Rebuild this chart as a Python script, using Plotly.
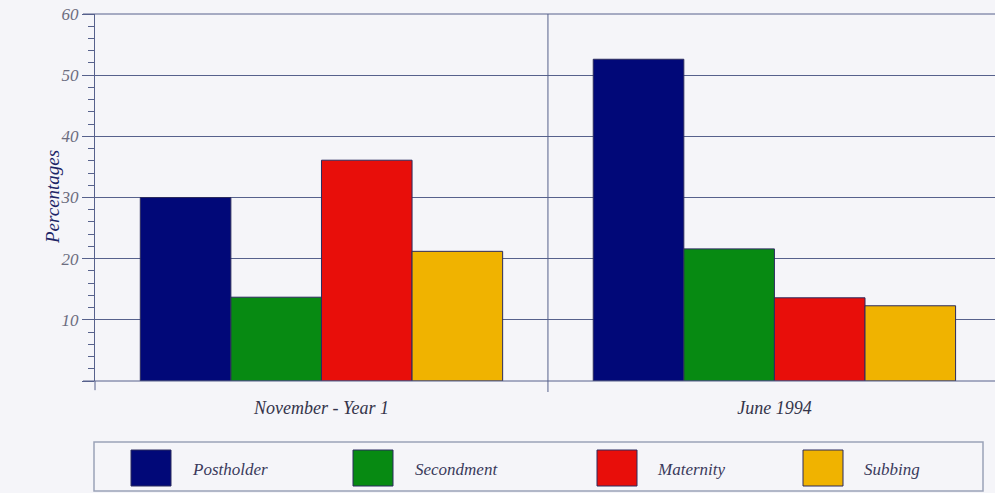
import plotly.graph_objects as go

# Share of staff by arrangement, two survey points
periods = ["November - Year 1", "June 1994"]
series_names = ["Postholder", "Secondment", "Maternity", "Subbing"]
postholder = [30.0, 52.6]
secondment = [13.7, 21.6]
maternity = [36.1, 13.6]
subbing = [21.2, 12.3]
series_values = [postholder, secondment, maternity, subbing]
series_colors = ["#010878", "#078a12", "#e80e0a", "#f0b300"]
y_ticks = [0, 10, 20, 30, 40, 50, 60]
y_tick_text = ["", "10", "20", "30", "40", "50", "60"]

BG = "#f5f5f9"
GRID = "#56618c"
SERIF = "Liberation Serif"

fig = go.Figure()
for name, vals, col in zip(series_names, series_values, series_colors):
    fig.add_trace(go.Bar(
        x=[0, 1], y=vals, name=name,
        marker=dict(color=col, line=dict(color="#2b2b5e", width=1)),
        showlegend=False,
    ))

px_w, px_left = 900.0, 95.0
px_h, px_base = 367.0, 381.0


def fx(px):
    return (px - px_left) / px_w


def fy(py):
    return (px_base - py) / px_h


shapes = [
    # divider between the two periods, running a little below the baseline
    dict(type="line", xref="x", yref="paper", x0=0.5, x1=0.5, y0=-0.03, y1=1,
         line=dict(color=GRID, width=1)),
    # downward extension of the value axis
    dict(type="line", xref="paper", yref="paper", x0=0, x1=0, y0=-0.025, y1=0,
         line=dict(color=GRID, width=1)),
    # baseline and top rule across the full width
    dict(type="line", xref="paper", yref="paper", x0=fx(83), x1=1, y0=0, y1=0,
         line=dict(color=GRID, width=1)),
    dict(type="line", xref="paper", yref="paper", x0=fx(83), x1=1, y0=1, y1=1,
         line=dict(color=GRID, width=1)),
]
annotations = [
    dict(text="<i>Percentages</i>", xref="paper", yref="paper",
         x=fx(40), y=0.5, textangle=-90, showarrow=False,
         font=dict(family=SERIF, size=19, color="#1c2466")),
]

# Legend panel with large swatches
shapes.append(dict(type="rect", xref="paper", yref="paper",
                   x0=fx(94), x1=fx(983), y0=fy(491), y1=fy(442),
                   line=dict(color="#9aa2b8", width=1.5), fillcolor=BG, layer="below"))
sw_left = [131, 353, 597, 803]
lbl_left = [190, 413, 655, 862]
for name, col, sx, lx in zip(series_names, series_colors, sw_left, lbl_left):
    shapes.append(dict(type="rect", xref="paper", yref="paper",
                       x0=fx(sx), x1=fx(sx + 40), y0=fy(486), y1=fy(450),
                       fillcolor=col, line=dict(color="#2b2b5e", width=1)))
    annotations.append(dict(text=f"<i>{name}</i>", xref="paper", yref="paper",
                            x=fx(lx), y=fy(469), xanchor="left", yanchor="middle",
                            showarrow=False,
                            font=dict(family=SERIF, size=17, color="#3a3a5c")))

fig.update_layout(
    width=995, height=493,
    margin=dict(l=95, r=0, t=14, b=112),
    paper_bgcolor=BG, plot_bgcolor=BG,
    barmode="group", bargap=0.2, bargroupgap=0,
    shapes=shapes, annotations=annotations,
    xaxis=dict(
        range=[-0.5, 1.487], tickvals=[0, 1], ticktext=[f"<i>{p}</i>" for p in periods],
        showgrid=False, zeroline=False, showline=False, ticks="",
        ticklabelstandoff=14,
        tickfont=dict(family=SERIF, size=18, color="#34344a"),
    ),
    yaxis=dict(
        range=[0, 60], tickvals=y_ticks, ticktext=[f"<i>{t}</i>" for t in y_tick_text],
        showgrid=True, gridcolor=GRID, gridwidth=1,
        zeroline=False, showline=True, linecolor=GRID, linewidth=1,
        ticks="outside", ticklen=12, tickcolor=GRID, tickwidth=1,
        tickfont=dict(family=SERIF, size=17, color="#6c6c80"),
        minor=dict(dtick=2, ticks="outside", ticklen=6, tickcolor=GRID,
                   tickwidth=1, showgrid=False),
    ),
)

fig.write_html("out.html")
